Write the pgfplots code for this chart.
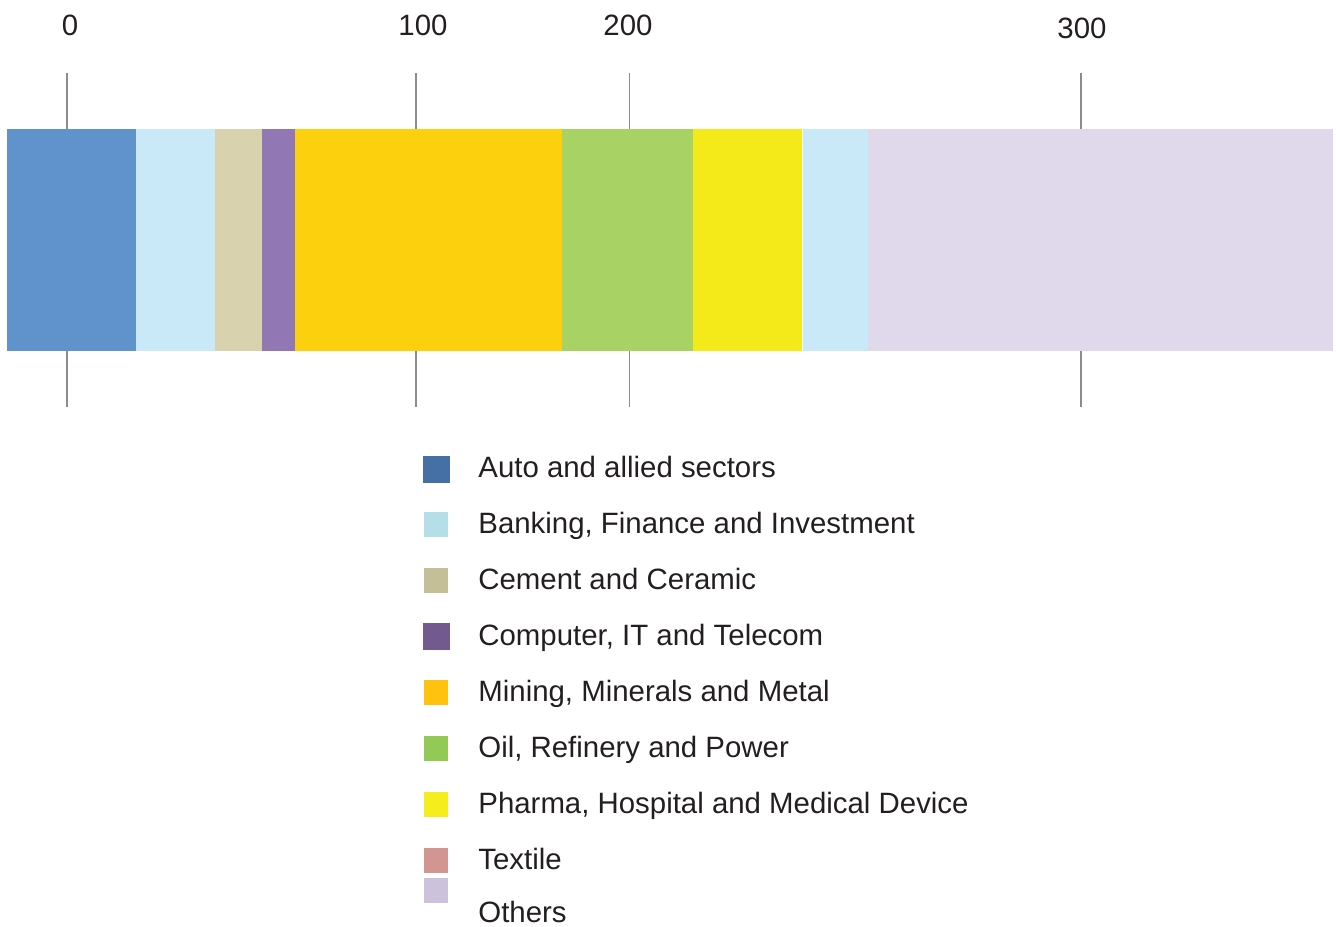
\documentclass[border=0pt]{standalone}
\usepackage{pgfplots}
\pgfplotsset{compat=1.18}
\usepackage{fontspec}
\setmainfont{Liberation Sans}

% bar colours
\definecolor{cAuto}{RGB}{96,146,204}
\definecolor{cBank}{RGB}{201,233,248}
\definecolor{cCem}{RGB}{216,211,174}
\definecolor{cComp}{RGB}{146,119,181}
\definecolor{cMin}{RGB}{252,208,13}
\definecolor{cOil}{RGB}{168,210,100}
\definecolor{cPha}{RGB}{245,234,25}
\definecolor{cOth}{RGB}{224,217,235}
% legend colours
\definecolor{lAuto}{RGB}{68,112,166}
\definecolor{lBank}{RGB}{181,223,232}
\definecolor{lCem}{RGB}{197,191,152}
\definecolor{lComp}{RGB}{114,90,143}
\definecolor{lMin}{RGB}{255,194,14}
\definecolor{lOil}{RGB}{146,202,85}
\definecolor{lPha}{RGB}{245,238,28}
\definecolor{lTex}{RGB}{211,149,146}
\definecolor{lOth}{RGB}{205,194,221}
\definecolor{tickgray}{RGB}{140,140,140}
\definecolor{txt}{RGB}{35,31,32}

\newcommand{\seg}[3]{\addplot[fill=#3,draw=none] coordinates {(#1,129) (#2,129) (#2,351) (#1,351)} --cycle;}

\begin{document}
\fontsize{14.7}{17.6}\selectfont
\begin{tikzpicture}[font=\fontsize{14.7}{17.6}\selectfont]
\begin{axis}[
  scale only axis, width=668pt, height=463pt,
  xmin=0, xmax=1336, ymin=0, ymax=926, y dir=reverse,
  axis lines=none, clip=false,
]
	% the bar
	\seg{7}{136}{cAuto}
	\seg{136}{215}{cBank}
	\seg{215}{262}{cCem}
	\seg{262}{295}{cComp}
	\seg{295}{562}{cMin}
	\seg{562}{693}{cOil}
	\seg{693}{802}{cPha}
	\seg{803}{868}{cBank}
	\seg{868}{1333}{cOth}

	% ticks above and below
	\addplot[tickgray,line width=0.75pt] coordinates {(67,73) (67,129)};
	\addplot[tickgray,line width=0.75pt] coordinates {(416,73) (416,129)};
	\addplot[tickgray,line width=0.75pt] coordinates {(629.5,73) (629.5,129)};
	\addplot[tickgray,line width=0.75pt] coordinates {(1081,73) (1081,129)};
	\addplot[tickgray,line width=0.75pt] coordinates {(67,351) (67,407)};
	\addplot[tickgray,line width=0.75pt] coordinates {(416,351) (416,407)};
	\addplot[tickgray,line width=0.75pt] coordinates {(629.5,351) (629.5,407)};
	\addplot[tickgray,line width=0.75pt] coordinates {(1081,351) (1081,407)};

	% tick labels
	\node[anchor=base,text=txt] at (axis cs:70,35) {0};
	\node[anchor=base,text=txt] at (axis cs:423,35) {100};
	\node[anchor=base,text=txt] at (axis cs:628,35) {200};
	\node[anchor=base,text=txt] at (axis cs:1082,39) {300};

	% legend
	\fill[lAuto] (axis cs:423,456) rectangle (axis cs:450,483);
	\fill[lBank] (axis cs:424,512) rectangle (axis cs:448,537);
	\fill[lCem]  (axis cs:424,568) rectangle (axis cs:448,593);
	\fill[lComp] (axis cs:423,623) rectangle (axis cs:450,650);
	\fill[lMin]  (axis cs:424,680) rectangle (axis cs:448,705);
	\fill[lOil]  (axis cs:424,736) rectangle (axis cs:448,761);
	\fill[lPha]  (axis cs:424,792) rectangle (axis cs:448,817);
	\fill[lTex]  (axis cs:424,848) rectangle (axis cs:448,873);
	\fill[lOth]  (axis cs:424,878) rectangle (axis cs:448,903);

	\node[anchor=base west,inner sep=0pt,text=txt] at (axis cs:478,477) {Auto and allied sectors};
	\node[anchor=base west,inner sep=0pt,text=txt] at (axis cs:478,533) {Banking, Finance and Investment};
	\node[anchor=base west,inner sep=0pt,text=txt] at (axis cs:478,589) {Cement and Ceramic};
	\node[anchor=base west,inner sep=0pt,text=txt] at (axis cs:478,645) {Computer, IT and Telecom};
	\node[anchor=base west,inner sep=0pt,text=txt] at (axis cs:478,701) {Mining, Minerals and Metal};
	\node[anchor=base west,inner sep=0pt,text=txt] at (axis cs:478,757) {Oil, Refinery and Power};
	\node[anchor=base west,inner sep=0pt,text=txt] at (axis cs:478,813) {Pharma, Hospital and Medical Device};
	\node[anchor=base west,inner sep=0pt,text=txt] at (axis cs:478,869) {Textile};
	\node[anchor=base west,inner sep=0pt,text=txt] at (axis cs:478,922) {Others};
\end{axis}
\pgfresetboundingbox
\path[use as bounding box] (current axis.south west) rectangle (current axis.north east);
\end{tikzpicture}
\end{document}
